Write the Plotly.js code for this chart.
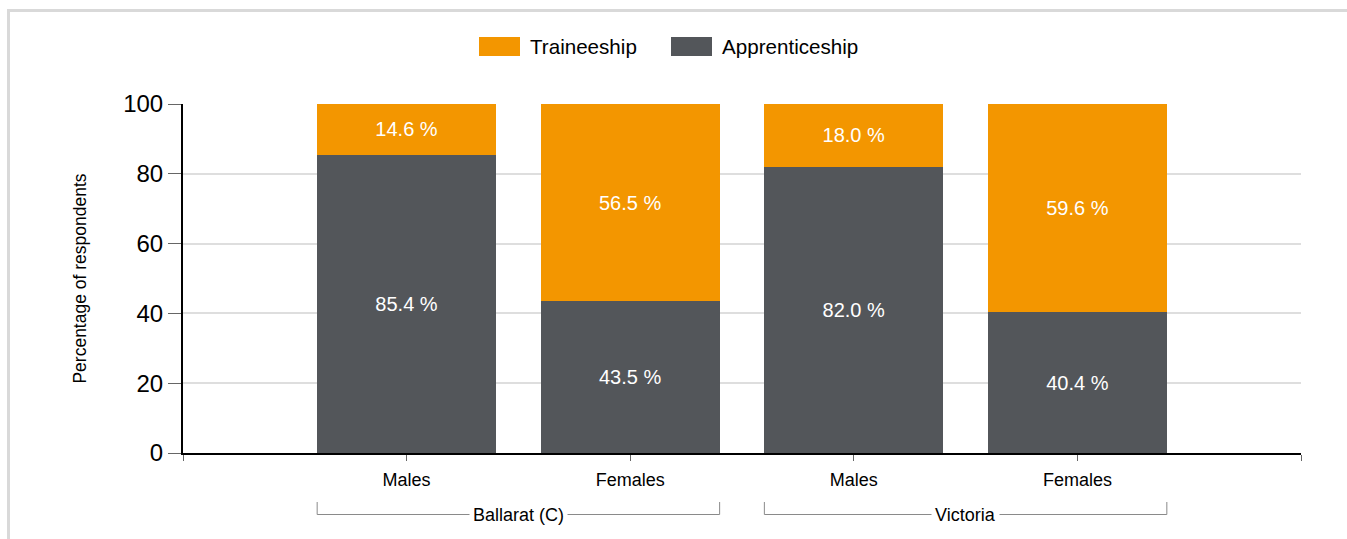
<!DOCTYPE html>
<html>
<head>
<meta charset="utf-8">
<script src="https://cdn.plot.ly/plotly-3.0.1.min.js"></script>
<style>
  html, body { margin: 0; padding: 0; background: #fff; }
  #frame { position: absolute; left: 7px; top: 9px; width: 1345px; height: 540px; border-left: 3px solid #d9d9d9; border-top: 3px solid #d9d9d9; box-sizing: border-box; }
  #chart { position: absolute; left: 0; top: 0; width: 1347px; height: 539px; }
</style>
</head>
<body>
<div id="frame"></div>
<div id="chart"></div>
<script>
// ---- data ----
const categories = ["Males", "Females", "Males", "Females"];
const groups = ["Ballarat (C)", "Victoria"];
const groupMembers = [[0, 1], [2, 3]];
const apprenticeship = [85.4, 43.5, 82.0, 40.4];
const traineeship = [14.6, 56.5, 18.0, 59.6];
const seriesNames = ["Traineeship", "Apprenticeship"];
const yTicks = [0, 20, 40, 60, 80, 100];

const ORANGE = "#F39600";
const GREY = "#53565A";
const FONT = "Liberation Sans, Arial, sans-serif";

const xs = categories.map((_, i) => i);
const barWidth = 0.8;
const fmt = v => v.toFixed(1) + " %";

const traces = [
  {
    type: "bar", name: seriesNames[1], x: xs, y: apprenticeship,
    marker: { color: GREY }, width: barWidth,
    text: apprenticeship.map(fmt), textposition: "inside", insidetextanchor: "middle",
    textfont: { color: "#ffffff", size: 20, family: FONT }, hoverinfo: "skip", showlegend: false
  },
  {
    type: "bar", name: seriesNames[0], x: xs, y: traineeship,
    marker: { color: ORANGE }, width: barWidth,
    text: traineeship.map(fmt), textposition: "inside", insidetextanchor: "middle",
    textfont: { color: "#ffffff", size: 20, family: FONT }, hoverinfo: "skip", showlegend: false
  }
];

// plot area geometry (pixels) used for custom legend/brackets
const L = 183, R = 46, T = 104, B = 86, W = 1347, H = 539;
const pw = W - L - R, ph = H - T - B;
const px = v => (v - L) / pw;
const py = v => (H - B - v) / ph;

const shapes = [];
const annotations = [];

// custom legend
const legendItems = [
  { name: seriesNames[0], color: ORANGE, x0: 479 },
  { name: seriesNames[1], color: GREY, x0: 671 }
];
legendItems.forEach(it => {
  shapes.push({ type: "rect", xref: "paper", yref: "paper", x0: px(it.x0), x1: px(it.x0 + 41), y0: py(56), y1: py(37),
    fillcolor: it.color, line: { width: 0 } });
  annotations.push({ xref: "paper", yref: "paper", x: px(it.x0 + 49), y: py(46.5), xanchor: "left", yanchor: "middle",
    text: it.name, showarrow: false, font: { size: 20.6, color: "#000", family: FONT } });
});

// group brackets
groups.forEach((g, gi) => {
  const m = groupMembers[gi];
  const a = m[0] - barWidth / 2, b = m[m.length - 1] + barWidth / 2;
  const yl = py(514.5), yt = py(502);
  shapes.push({ type: "path", xref: "x", yref: "paper",
    path: `M ${a} ${yt} L ${a} ${yl} L ${b} ${yl} L ${b} ${yt}`,
    line: { color: "#8a8a8a", width: 1 } });
  annotations.push({ xref: "x", yref: "paper", x: (m[0] + m[m.length - 1]) / 2, y: yl, xanchor: "center", yanchor: "middle",
    text: g, showarrow: false, bgcolor: "#ffffff", borderpad: 3, font: { size: 18, color: "#000", family: FONT } });
});

const layout = {
  width: W, height: H,
  margin: { l: L, r: R, t: T, b: B },
  paper_bgcolor: "rgba(0,0,0,0)", plot_bgcolor: "rgba(0,0,0,0)",
  barmode: "stack",
  showlegend: false,
  font: { family: FONT, color: "#000" },
  xaxis: {
    range: [-1, categories.length],
    tickvals: [-1].concat(xs, [categories.length]),
    ticktext: [""].concat(categories, [""]),
    ticks: "outside", ticklen: 6, tickcolor: "#666", tickwidth: 1,
    ticklabelstandoff: 3,
    showline: true, linecolor: "#000", linewidth: 2,
    showgrid: false, zeroline: false,
    tickfont: { size: 18, color: "#000", family: FONT },
    fixedrange: true
  },
  yaxis: {
    range: [0, 100],
    tickvals: yTicks,
    ticks: "outside", ticklen: 13, tickcolor: "#666", tickwidth: 1,
    showline: true, linecolor: "#000", linewidth: 2,
    showgrid: true, gridcolor: "#dedede", gridwidth: 2,
    zeroline: false,
    tickfont: { size: 24, color: "#000", family: FONT },
    title: { text: "Percentage of respondents", font: { size: 17.5, color: "#000", family: FONT }, standoff: 32 },
    fixedrange: true
  },
  shapes: shapes,
  annotations: annotations
};

Plotly.newPlot("chart", traces, layout, { displayModeBar: false, staticPlot: true });
</script>
</body>
</html>
